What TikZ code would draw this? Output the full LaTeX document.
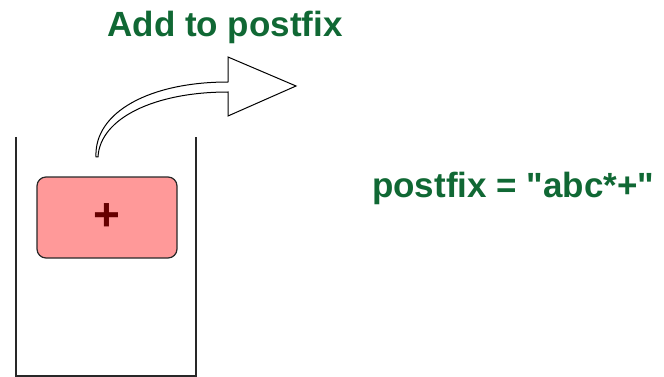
\documentclass[tikz,border=0pt]{standalone}
\usepackage{fontspec}
\setmainfont{Liberation Sans}[Ligatures=TeXOff]
\definecolor{gfgreen}{RGB}{16,104,52}
\definecolor{boxred}{RGB}{255,153,153}
\definecolor{plusred}{RGB}{102,0,0}
\definecolor{wall}{RGB}{40,40,40}
\begin{document}
\begin{tikzpicture}[x=1pt,y=-1pt,
  greentext/.style={text=gfgreen,font=\fontsize{35}{40}\selectfont\bfseries,inner sep=0pt},
  wallline/.style={draw=wall,line width=1.5pt},
  elembox/.style={draw=wall,line width=1.2pt,fill=boxred,rounded corners=9pt,minimum width=140pt,minimum height=81pt,inner sep=0pt,text=plusred,font=\fontsize{46}{50}\selectfont\bfseries},
  bigarrow/.style={draw=black,line width=1pt,fill=white,line join=miter}]
\useasboundingbox (0,0) rectangle (664,377);
\coordinate (tl) at (16,137);
\coordinate (bl) at (16,376);
\coordinate (br) at (196,376);
\coordinate (tr) at (196,137);
\draw[wallline] (tl) -- (bl) -- (br) -- (tr);
\node[elembox] (box) at (107,217.5) {\raisebox{1pt}{+}};
\node[greentext,anchor=base] (title) at (225,37) {Add to postfix};
\node[greentext,anchor=base west] (result) at (372,197) {postfix = "abc*+"};
\coordinate (a0) at (96,157);
\coordinate (a1) at (228,82);
\coordinate (a2) at (228,57);
\coordinate (tip) at (296,86);
\coordinate (a3) at (228,116);
\coordinate (a4) at (228,92);
\coordinate (a5) at (98,157);
\draw[bigarrow] (a0) .. controls (94,112) and (150,82) .. (a1) -- (a2) -- (tip) -- (a3) -- (a4) .. controls (155,92) and (100,118) .. (a5) -- cycle;
\end{tikzpicture}
\end{document}
